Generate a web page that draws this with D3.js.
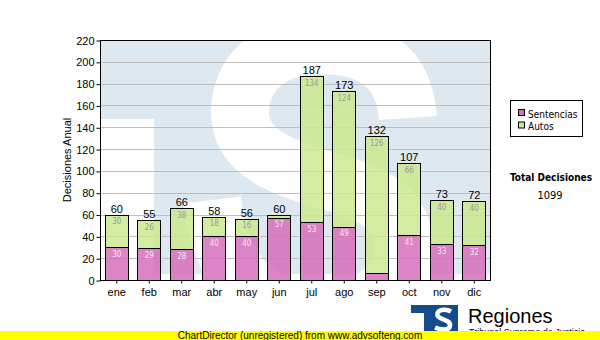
<!DOCTYPE html>
<html>
<head>
<meta charset="utf-8">
<script src="https://cdn.jsdelivr.net/npm/d3@7/dist/d3.min.js"></script>
<style>
  html, body { margin: 0; padding: 0; background: #fff; }
  svg { display: block; }
</style>
</head>
<body>
<script>
// ---- data ----
const months = ["ene","feb","mar","abr","may","jun","jul","ago","sep","oct","nov","dic"];
const sentencias = [30,29,28,40,40,57,53,49,6,41,33,32];
const autos = [30,26,38,18,16,3,134,124,126,66,40,40];
const yTicks = [0,20,40,60,80,100,120,140,160,180,200,220];
const seriesNames = ["Sentencias","Autos"];
const seriesColors = ["#d66fbb","#cbe98f"];
const yTitle = "Decisiones Anual";
const totalTitle = "Total Decisiones";

const W = 600, H = 340;
const plot = {l: 100, t: 40, r: 490, b: 280};
const svg = d3.select("body").append("svg").attr("width", W).attr("height", H);

const x = d3.scaleBand().domain(months).range([plot.l, plot.r]).paddingInner(0.28).paddingOuter(0.14);
const y = d3.scaleLinear().domain([0, 220]).range([plot.b, plot.t]);

// ---- watermark background ----
const defs = svg.append("defs");
defs.append("clipPath").attr("id","wm").append("rect")
  .attr("x", plot.l).attr("y", plot.t).attr("width", plot.r - plot.l).attr("height", 234);
const wm = svg.append("g").attr("clip-path","url(#wm)");
wm.append("rect").attr("x", plot.l).attr("y", plot.t).attr("width", plot.r - plot.l).attr("height", 234).attr("fill","#dee8f1");
wm.append("rect").attr("x", plot.l).attr("y", 119).attr("width", 54).attr("height", 160).attr("fill","#fff");
wm.append("path")
  .attr("d","M 408,118 C 404,62 365,45 322,45 C 268,45 240,75 240,112 C 240,160 300,172 345,186 C 388,200 404,218 404,248 C 404,290 365,310 318,310 C 262,310 222,280 212,200")
  .attr("fill","none").attr("stroke","#fff").attr("stroke-width",58);

// ---- grid ----
svg.append("g").selectAll("line").data(yTicks.filter(v => v > 0 && v < 220)).join("line")
  .attr("x1", plot.l).attr("x2", plot.r)
  .attr("y1", d => Math.round(y(d)) + 0.5).attr("y2", d => Math.round(y(d)) + 0.5)
  .attr("stroke","#bdbdbd").attr("stroke-width",1);

// ---- bars ----
const rows = months.map((m, i) => ({month: m, Sentencias: sentencias[i], Autos: autos[i]}));
const stack = d3.stack().keys(seriesNames)(rows);
const gBars = svg.append("g");
stack.forEach((layer, li) => {
  gBars.append("g").selectAll("rect").data(layer).join("rect")
    .attr("x", d => Math.round(x(d.data.month)) + 0.5)
    .attr("width", Math.round(x.bandwidth()))
    .attr("y", d => Math.round(y(d[1])) + 0.5)
    .attr("height", d => Math.round(y(d[0])) - Math.round(y(d[1])))
    .attr("fill", seriesColors[li]).attr("fill-opacity", 0.85)
    .attr("stroke","#000").attr("stroke-width",1);
});
// inner labels
const labelColors = ["#f6e4f1","#9a9a9a"];
stack.forEach((layer, li) => {
  gBars.append("g").selectAll("text").data(layer.filter(d => y(d[0]) - y(d[1]) > 10)).join("text")
    .attr("x", d => x(d.data.month) + x.bandwidth() / 2 + 0.5)
    .attr("y", d => y(d[1]) + 9.5)
    .attr("text-anchor","middle")
    .attr("font-family","'DejaVu Sans Condensed','DejaVu Sans',sans-serif")
    .attr("font-stretch","condensed")
    .attr("font-size","8px")
    .attr("fill", labelColors[li])
    .text(d => d[1] - d[0]);
});
// totals
gBars.append("g").selectAll("text").data(rows).join("text")
  .attr("x", d => x(d.month) + x.bandwidth() / 2 + 0.5)
  .attr("y", d => y(d.Sentencias + d.Autos) - 2)
  .attr("text-anchor","middle")
  .attr("font-family","'Liberation Sans',Arial,sans-serif")
  .attr("font-size","11px").attr("fill","#000")
  .text(d => d.Sentencias + d.Autos);

// ---- frame & axes ----
svg.append("rect").attr("x", plot.l + 0.5).attr("y", plot.t + 0.5)
  .attr("width", plot.r - plot.l).attr("height", plot.b - plot.t)
  .attr("fill","none").attr("stroke","#000");

const yAxis = svg.append("g").attr("transform", `translate(${plot.l + 0.5},0.5)`)
  .call(d3.axisLeft(y).tickValues(yTicks).tickSize(4).tickPadding(2));
yAxis.select(".domain").remove();
yAxis.selectAll("text").attr("font-family","'Liberation Sans',Arial,sans-serif").attr("font-size","11px").attr("fill","#000");

const xAxis = svg.append("g").attr("transform", `translate(0.5,${plot.b + 0.5})`)
  .call(d3.axisBottom(x).tickSize(3).tickPadding(5));
xAxis.select(".domain").remove();
xAxis.selectAll("text").attr("font-family","'Liberation Sans',Arial,sans-serif").attr("font-size","11px").attr("fill","#000");

svg.append("text")
  .attr("transform", `translate(71,${(plot.t + plot.b) / 2}) rotate(-90)`)
  .attr("text-anchor","middle")
  .attr("font-family","'Liberation Sans',Arial,sans-serif").attr("font-size","11px")
  .text(yTitle);

// ---- legend ----
const lg = svg.append("g");
lg.append("rect").attr("x",510.5).attr("y",100.5).attr("width",72).attr("height",36)
  .attr("fill","#fff").attr("stroke","#000");
seriesNames.forEach((n, i) => {
  lg.append("rect").attr("x",518.5).attr("y",109.5 + i * 12.5).attr("width",6).attr("height",6)
    .attr("fill", seriesColors[i]).attr("stroke","#000");
  lg.append("text").attr("x",528).attr("y",117.5 + i * 12.5)
    .attr("font-family","'DejaVu Sans Condensed','DejaVu Sans',sans-serif")
    .attr("font-stretch","condensed")
    .attr("font-size","10px").attr("fill","#000").text(n);
});

// ---- total ----
svg.append("text").attr("x",551).attr("y",181).attr("text-anchor","middle")
  .attr("font-family","'DejaVu Sans Condensed','DejaVu Sans',sans-serif").attr("font-stretch","condensed")
  .attr("font-weight","bold").attr("font-size","10px").text(totalTitle);
svg.append("text").attr("x",550).attr("y",199).attr("text-anchor","middle")
  .attr("font-family","'DejaVu Sans Condensed','DejaVu Sans',sans-serif").attr("font-stretch","condensed")
  .attr("font-size","11px").text(d3.sum(sentencias) + d3.sum(autos));

// ---- logo ----
const logo = svg.append("g");
logo.append("path").attr("d","M411,305 H458 V332 H424 V313 H411 Z").attr("fill","#154a8c");
logo.append("path").attr("d","M451,311.5 C446,308.5 436,309 437.5,315.5 C439,320 451,319 450,326 C449,331 440,330 435,327.5")
  .attr("fill","none").attr("stroke","#fff").attr("stroke-width",4.5);
logo.append("text").attr("x",468).attr("y",323)
  .attr("font-family","'Liberation Sans',Arial,sans-serif").attr("font-size","20px").attr("fill","#000").text("Regiones");
logo.append("text").attr("x",469).attr("y",335)
  .attr("font-family","'Liberation Sans',Arial,sans-serif").attr("font-size","9px").attr("fill","#000").text("Tribunal Supremo de Justicia");

// ---- footer ----
svg.append("rect").attr("x",0).attr("y",331).attr("width",W).attr("height",9).attr("fill","#ffff00");
svg.append("text").attr("x",300).attr("y",339).attr("text-anchor","middle")
  .attr("font-family","'Liberation Sans',Arial,sans-serif").attr("font-size","10px").attr("fill","#000")
  .text("ChartDirector (unregistered) from www.advsofteng.com");
</script>
</body>
</html>
